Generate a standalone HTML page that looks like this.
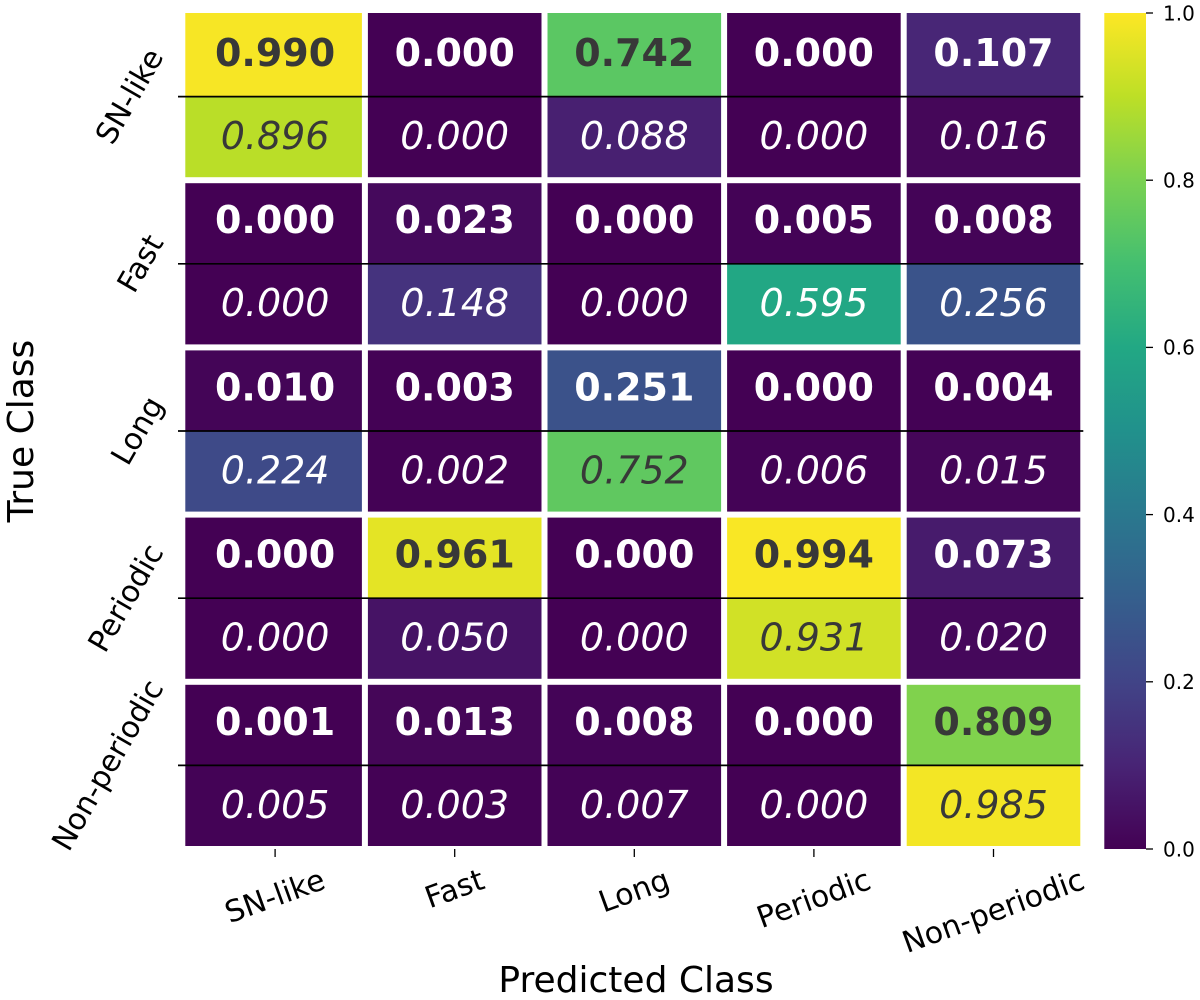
<!DOCTYPE html>
<html lang="en">
<head>
<meta charset="utf-8">
<title>Confusion matrix heatmap</title>
<style>
html,body{margin:0;padding:0;background:#fff;width:1200px;height:1000px;overflow:hidden}
svg{display:block}
text{font-family:"DejaVu Sans","Liberation Sans",sans-serif;fill:#000}
</style>
</head>
<body>
<svg id="chart" width="1200" height="1000" viewBox="0 0 1200 1000" xmlns="http://www.w3.org/2000/svg">
<defs>
<linearGradient id="viridis-gradient" x1="0" y1="1" x2="0" y2="0"></linearGradient>
</defs>
<g id="cells"></g>
<g id="annots"></g>
<g id="yticks"></g>
<g id="xticks"></g>
<g id="colorbar"></g>
<text x="636" y="992" font-size="36" text-anchor="middle">Predicted Class</text>
<text transform="translate(33 431) rotate(-90)" font-size="36" text-anchor="middle">True Class</text>
</svg>
<script>
const classes = ["SN-like", "Fast", "Long", "Periodic", "Non-periodic"];
const upperValues = [
  [0.990, 0.000, 0.742, 0.000, 0.107],
  [0.000, 0.023, 0.000, 0.005, 0.008],
  [0.010, 0.003, 0.251, 0.000, 0.004],
  [0.000, 0.961, 0.000, 0.994, 0.073],
  [0.001, 0.013, 0.008, 0.000, 0.809]
];
const lowerValues = [
  [0.896, 0.000, 0.088, 0.000, 0.016],
  [0.000, 0.148, 0.000, 0.595, 0.256],
  [0.224, 0.002, 0.752, 0.006, 0.015],
  [0.000, 0.050, 0.000, 0.931, 0.020],
  [0.005, 0.003, 0.007, 0.000, 0.985]
];
const colorbarTicks = [0, 0.2, 0.4, 0.6, 0.8, 1];

const NS = "http://www.w3.org/2000/svg";
const viridis = ["#440154","#482475","#414487","#355f8d","#2a788e","#21918c","#22a884","#44bf70","#7ad151","#bddf26","#fde725"];
const plot = {left: 185.3, right: 1083.3, top: 13, bottom: 849};
const colorbarBox = {left: 1104.3, right: 1146, top: 13, bottom: 849};
const gap = 3;
const cols = classes.length;
const rows = classes.length;
const xScale = c => plot.left + (plot.right - plot.left) * c / cols;
const yScale = r => plot.top + (plot.bottom - plot.top) * r / rows;
const cbScale = v => colorbarBox.bottom - (colorbarBox.bottom - colorbarBox.top) * v;

function colorFor(v) {
  const t = Math.max(0, Math.min(1, v)) * (viridis.length - 1);
  const i = Math.min(Math.floor(t), viridis.length - 2);
  const f = t - i;
  const a = viridis[i], b = viridis[i + 1];
  const ch = k => {
    const p = parseInt(a.substr(k, 2), 16), q = parseInt(b.substr(k, 2), 16);
    return Math.round(p + (q - p) * f);
  };
  return "rgb(" + ch(1) + "," + ch(3) + "," + ch(5) + ")";
}
const textColor = v => v >= 0.6 ? "#383838" : "#ffffff";
function make(tag, attrs, parent, content) {
  const el = document.createElementNS(NS, tag);
  for (const k in attrs) el.setAttribute(k, attrs[k]);
  if (content !== undefined) el.textContent = content;
  parent.appendChild(el);
  return el;
}

const cellsG = document.getElementById("cells");
const annotsG = document.getElementById("annots");
const ytG = document.getElementById("yticks");
const xtG = document.getElementById("xticks");
const cbG = document.getElementById("colorbar");

for (let r = 0; r < rows; r++) {
  for (let c = 0; c < cols; c++) {
    const x0 = xScale(c) + (c === 0 ? 0 : gap);
    const x1 = xScale(c + 1) - gap;
    const y0 = yScale(r) + (r === 0 ? 0 : gap);
    const y1 = yScale(r + 1) - gap;
    const yMid = (yScale(r) + yScale(r + 1)) / 2;
    const cx = (xScale(c) + xScale(c + 1)) / 2;

    const upper = make("rect", {x: x0, y: y0, width: x1 - x0, height: yMid - y0, fill: colorFor(upperValues[r][c])}, cellsG);
    
    
    const lower = make("rect", {x: x0, y: yMid, width: x1 - x0, height: y1 - yMid, fill: colorFor(lowerValues[r][c])}, cellsG);
    
    

    const t1 = make("text", {x: cx, y: yMid - 30.6, "text-anchor": "middle", "font-size": 38, "font-weight": "bold"}, annotsG, upperValues[r][c].toFixed(3));
    t1.style.fill = textColor(upperValues[r][c]);
    
    
    const t2 = make("text", {x: cx, y: yMid + 52.4, "text-anchor": "middle", "font-size": 38, "font-style": "italic"}, annotsG, lowerValues[r][c].toFixed(3));
    t2.style.fill = textColor(lowerValues[r][c]);
    
    
  }
}

const rad = d => d * Math.PI / 180;
classes.forEach((name, r) => {
  const y = (yScale(r) + yScale(r + 1)) / 2;
  const line = make("line", {x1: 178, x2: plot.right, y1: y, y2: y, stroke: "#000", "stroke-width": 1.7}, ytG);
  
  
  const label = make("text", {"font-size": 30, "text-anchor": "middle", "dominant-baseline": "central"}, ytG, name);
  
  
  const w = label.getComputedTextLength();
  const cx = 165 - (w * Math.cos(rad(60)) + 18) / 2;
  label.setAttribute("transform", "translate(" + cx + " " + y + ") rotate(-60)");
});
classes.forEach((name, c) => {
  const x = (xScale(c) + xScale(c + 1)) / 2;
  const tick = make("line", {x1: x, x2: x, y1: plot.bottom, y2: 857, stroke: "#000", "stroke-width": 1.3}, xtG);
  
  
  const label = make("text", {"font-size": 30, "text-anchor": "middle", "dominant-baseline": "central"}, xtG, name);
  
  
  const w = label.getComputedTextLength();
  const cy = 870 + (w * Math.sin(rad(20)) + 18) / 2;
  label.setAttribute("transform", "translate(" + x + " " + cy + ") rotate(-20)");
});

const gradient = document.getElementById("viridis-gradient");
viridis.forEach((col, i) => {
  make("stop", {offset: i / (viridis.length - 1), "stop-color": col}, gradient);
});
const cbRect = make("rect", {x: colorbarBox.left, y: colorbarBox.top, width: colorbarBox.right - colorbarBox.left, height: colorbarBox.bottom - colorbarBox.top, fill: "url(#viridis-gradient)"}, cbG);


colorbarTicks.forEach(v => {
  const y = cbScale(v);
  const tick = make("line", {x1: colorbarBox.right, x2: colorbarBox.right + 7, y1: y, y2: y, stroke: "#000", "stroke-width": 1.3}, cbG);
  
  
  const label = make("text", {x: 1163, y: y + 7.3, "font-size": 20}, cbG, v.toFixed(1));
  
  
});
</script>
</body>
</html>
